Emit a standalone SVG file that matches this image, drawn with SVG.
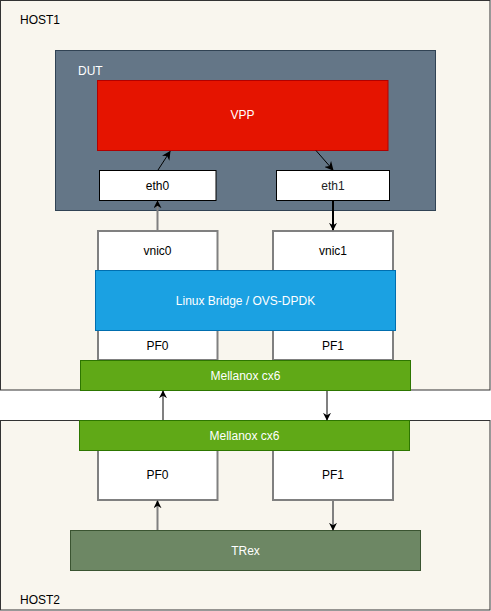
<svg xmlns="http://www.w3.org/2000/svg" width="491" height="611" viewBox="0 0 491 611">
<defs>
<style>
text{font-family:"Liberation Sans",Arial,sans-serif;font-size:12px;}
.c{text-anchor:middle;dominant-baseline:central;}
.w{fill:#ffffff;}
.k{fill:#000000;}
.host{fill:#f9f6ee;stroke:#333333;stroke-width:1;}
.port{fill:#ffffff;stroke:#808080;stroke-width:2;}
.eth{fill:#ffffff;stroke:#000000;stroke-width:1;}
.mlx{fill:#60a917;stroke:#2d7600;stroke-width:1;}
.gl{stroke:#808080;stroke-width:2;fill:none;}
.bl{stroke:#000000;stroke-width:1;fill:none;}
.bl2{stroke:#000000;stroke-width:2;fill:none;}
</style>
<marker id="ah" viewBox="0 0 10 10" refX="9" refY="5" markerWidth="8" markerHeight="8" markerUnits="userSpaceOnUse" orient="auto">
<path d="M0,0 L10,5 L0,10 L3,5 Z" fill="#000000"/>
</marker>
<marker id="ah2" viewBox="0 0 10 10" refX="9" refY="5" markerWidth="9" markerHeight="9" markerUnits="userSpaceOnUse" orient="auto">
<path d="M0,0 L10,5 L0,10 L3,5 Z" fill="#000000"/>
</marker>
</defs>
<g id="host1">
<rect class="host" x="0.5" y="0.5" width="489.5" height="389.5"/>
<text x="20" y="24">HOST1</text>
</g>
<g id="host2">
<rect class="host" x="0.5" y="420.5" width="489.5" height="189.5"/>
<text x="20" y="604">HOST2</text>
</g>
<g id="dut">
<rect x="55.5" y="50.5" width="380" height="160" fill="#647687" stroke="#314354"/>
<text class="w" x="78" y="75">DUT</text>
</g>
<g id="vpp">
<rect x="97.5" y="80.5" width="290.5" height="70" fill="#e51400" stroke="#b20000"/>
<text class="c w" x="242.5" y="115">VPP</text>
</g>
<g id="eth0">
<rect class="eth" x="99.5" y="170.5" width="116.5" height="30"/>
<text class="c k" x="157.5" y="186">eth0</text>
</g>
<g id="eth1">
<rect class="eth" x="276.5" y="170.5" width="113" height="30"/>
<text class="c" fill="#222" x="333" y="186">eth1</text>
</g>
<g id="vnic0">
<rect class="port" x="98" y="231" width="119.5" height="129"/>
<text class="c k" x="157.5" y="251">vnic0</text>
</g>
<g id="vnic1">
<rect class="port" x="273" y="231" width="120" height="129"/>
<text class="c k" x="333" y="251">vnic1</text>
</g>
<g id="bridge">
<rect x="95.5" y="270.5" width="300" height="60" fill="#1ba1e2" stroke="#006eaf"/>
<text class="c w" x="245.5" y="300.5">Linux Bridge / OVS-DPDK</text>
</g>
<g id="pf0-h1">
<text class="c k" x="157.5" y="345.5">PF0</text>
</g>
<g id="pf1-h1">
<text class="c k" x="333" y="345.5">PF1</text>
</g>
<g id="mlx-h1">
<rect class="mlx" x="80.5" y="360.5" width="330" height="30"/>
<text class="c w" x="245.5" y="375.5">Mellanox cx6</text>
</g>
<g id="pf0-h2">
<rect class="port" x="98" y="450" width="119.5" height="50"/>
<text class="c k" x="157.5" y="475">PF0</text>
</g>
<g id="pf1-h2">
<rect class="port" x="273" y="450" width="120" height="50"/>
<text class="c k" x="333" y="475">PF1</text>
</g>
<g id="mlx-h2">
<rect class="mlx" x="79.5" y="420.5" width="330" height="30"/>
<text class="c w" x="244.5" y="435.5">Mellanox cx6</text>
</g>
<g id="trex">
<rect x="70.5" y="530.5" width="350" height="40" fill="#6d8764" stroke="#3a5431"/>
<text class="c w" x="245.5" y="550.5">TRex</text>
</g>
<g id="connectors">
<line class="bl" x1="158" y1="170" x2="170" y2="151.5" marker-end="url(#ah2)"/>
<line class="bl" x1="316" y1="150.5" x2="333" y2="170" marker-end="url(#ah2)"/>
<line class="gl" x1="157.5" y1="230" x2="157.5" y2="201" marker-end="url(#ah)"/>
<line class="bl2" x1="333" y1="201" x2="333" y2="230" marker-end="url(#ah)"/>
<line class="gl" x1="163" y1="420" x2="163" y2="391" marker-end="url(#ah)"/>
<line class="gl" x1="327" y1="391" x2="327" y2="420" marker-end="url(#ah)"/>
<line class="gl" x1="157.5" y1="530" x2="157.5" y2="501" marker-end="url(#ah)"/>
<line class="gl" x1="333" y1="501" x2="333" y2="530" marker-end="url(#ah)"/>
</g>
</svg>
